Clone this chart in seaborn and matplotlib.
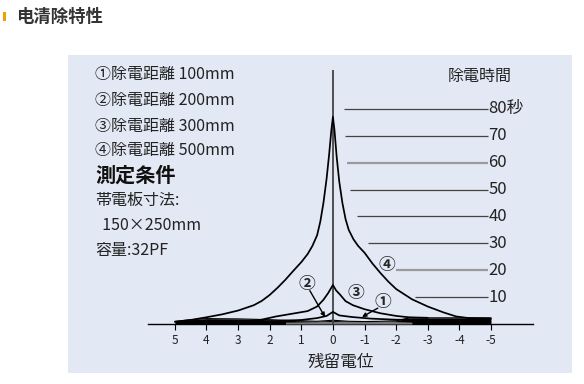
import matplotlib
matplotlib.use("Agg")
import matplotlib.pyplot as plt
from matplotlib.patches import Rectangle
import seaborn as sns
import pandas as pd

sns.set_theme(style="white")
plt.rcParams['font.family'] = ['Noto Sans CJK JP', 'DejaVu Sans']

# ---------------- data ----------------
title = "电清除特性"
x_label = "残留電位"
time_label = "除電時間"
x_ticks = [5, 4, 3, 2, 1, 0, -1, -2, -3, -4, -5]
x_tick_labels = ["5", "4", "3", "2", "1", "0", "-1", "-2", "-3", "-4", "-5"]
time_values = [80, 70, 60, 50, 40, 30, 20, 10]
time_labels = ["80秒", "70", "60", "50", "40", "30", "20", "10"]
leader_start = [-0.35, -0.38, -0.44, -0.54, -0.76, -1.11, -1.99, -2.6]
leader_gray = [False, False, True, False, False, False, True, False]

legend_lines = ["①除電距離 100mm", "②除電距離 200mm", "③除電距離 300mm", "④除電距離 500mm"]
cond_title = "測定条件"
cond_lines = ["帯電板寸法:", "  150×250mm", "容量:32PF"]

# curve 4 : 500mm
c4_x = [5.0, 4.5, 4.0, 3.5, 3.0, 2.5, 2.25, 2.0, 1.75, 1.5, 1.25, 1.0, 0.8, 0.65, 0.5, 0.4, 0.3,
        0.2, 0.12, 0.05, 0.0,
        -0.05, -0.12, -0.2, -0.3, -0.4, -0.5, -0.65, -0.8, -1.0, -1.25, -1.5, -1.75, -2.0,
        -2.5, -3.0, -3.5, -3.9, -4.3, -5.0]
c4_v = [0.8, 1.5, 2.5, 3.6, 5.0, 7.0, 8.6, 10.8, 13.5, 16.5, 19.8, 23.0, 26.0, 29.0, 33.0, 38.0, 45.0,
        54.0, 63.0, 72.0, 77.0,
        72.0, 62.0, 53.0, 45.0, 39.0, 35.0, 31.5, 29.0, 26.5, 22.5, 19.0, 15.8, 13.0,
        9.2, 6.5, 4.3, 2.8, 2.2, 2.0]
# curve 3 : 300mm
c3_x = [3.0, 2.3, 1.8, 1.2, 0.8, 0.5, 0.3, 0.15, 0.0, -0.1, -0.22, -0.4, -0.63, -1.0, -1.5, -2.0, -2.4, -3.0]
c3_v = [0.8, 1.5, 2.8, 4.0, 4.8, 6.5, 9.0, 11.5, 14.5, 12.5, 11.0, 8.5, 7.0, 5.5, 4.0, 3.0, 2.5, 2.3]
# curve 2 : 200mm
c2_x = [2.0, 1.0, 0.5, 0.2, 0.0, -0.2, -0.6, -1.2, -2.0, -2.5]
c2_v = [1.0, 1.5, 2.2, 3.0, 4.5, 3.2, 2.6, 2.0, 1.6, 1.5]
# curve 1 : 100mm (band along the baseline)
c1_x = [5.0, 4.5, 4.0, 3.0, 2.0, 1.0, 0.5, 0.0, -0.5, -1.0, -1.5, -2.0, -2.3, -2.5, -3.0, -4.0, -5.0]
c1_v = [1.0, 1.6, 2.0, 1.9, 1.6, 1.2, 1.0, 1.4, 1.0, 0.9, 1.0, 1.2, 2.0, 2.3, 2.3, 2.3, 2.3]
gray_x = [1.5, 0.5, 0.0, -1.0, -2.0, -2.5]
gray_v = [0.7, 0.9, 1.0, 1.0, 0.9, 0.7]

# curve label positions (data units) and pointer arrows
label_text = ["④", "③", "①", "②"]
label_x = [-1.7, -0.72, -1.58, 0.82]
label_v = [22.0, 11.5, 8.2, 15.0]
arrow_from = [(-1.42, 5.9), (0.73, 12.4)]
arrow_to = [(-0.92, 2.6), (0.25, 2.6)]

curves = pd.DataFrame({
    "x": c4_x + c3_x + c2_x,
    "v": c4_v + c3_v + c2_v,
    "curve": ["4"] * len(c4_x) + ["3"] * len(c3_x) + ["2"] * len(c2_x),
})

# ---------------- figure ----------------
W, H = 584, 384
fig = plt.figure(figsize=(W / 100, H / 100), dpi=100)
fig.patch.set_facecolor("white")

# panel background
fig.patches.append(Rectangle((68 / W, 1 - 373 / H), (572 - 68) / W, (373 - 55) / H,
                             transform=fig.transFigure, facecolor="#e2e8f4",
                             edgecolor="none", zorder=-5))
# title with orange marker
fig.patches.append(Rectangle((3 / W, 1 - 21 / H), 3 / W, 9 / H, transform=fig.transFigure,
                             facecolor="#f0a000", edgecolor="none", zorder=-5))
fig.text(16 / W, 1 - 17 / H, title, fontsize=12.5, fontweight="bold", color="#333333",
         va="center", ha="left", family=['Noto Sans CJK SC', 'DejaVu Sans'])

ax = fig.add_axes([148 / W, 1 - 324 / H, (533 - 148) / W, (324 - 60.4) / H])
ax.set_facecolor("none")
ax.set_zorder(2)
for s in ["top", "left", "right"]:
    ax.spines[s].set_visible(False)
ax.spines["bottom"].set_color("black")
ax.spines["bottom"].set_linewidth(1.0)

# band along baseline (curve 1)
ax.fill_between(c1_x, 0, c1_v, color="black", lw=0, zorder=3)
ax.fill_between(gray_x, 0, gray_v, color="#777777", lw=0, zorder=3.5)
ax.plot(c1_x, c1_v, color="black", lw=0.8, zorder=4)

# vertical axis at 0
ax.vlines(0, 0, 94.5, color="#444444", lw=1.3, zorder=5)

sns.lineplot(data=curves, x="x", y="v", units="curve", estimator=None, sort=False,
             color="black", lw=1.25, ax=ax, zorder=6, legend=False)

ax.set_xlim(5.85, -6.33)
ax.set_ylim(0, 98)
ax.set_xticks(x_ticks)
ax.set_xticklabels(x_tick_labels, fontsize=8.5)
ax.tick_params(axis="x", direction="out", length=4, width=0.8, color="black", pad=3,
               bottom=True, labelcolor="#222222")
ax.set_yticks([])
ax.set_xlabel(x_label, fontsize=12, color="#222222", labelpad=5)
ax.set_ylabel("")

# leader lines and time labels
for val, lab, st, g in zip(time_values, time_labels, leader_start, leader_gray):
    ax.hlines(val, st, -4.9, color="#9a9a9a" if g else "#444444",
              lw=1.6 if g else 0.9, zorder=2)
    ax.text(-4.92, val, lab, fontsize=12, va="center", ha="left", color="#222222")
ax.text(-4.65, 92, time_label, fontsize=11.5, va="center", ha="center", color="#222222")

# circled curve labels
for t, lx, lv in zip(label_text, label_x, label_v):
    ax.text(lx, lv, t, fontsize=12, fontweight="bold", ha="center", va="center", zorder=7)
for a, b in zip(arrow_from, arrow_to):
    ax.annotate("", xy=b, xytext=a, zorder=7,
                arrowprops=dict(arrowstyle="-|>", color="black", lw=1.0, mutation_scale=6,
                                shrinkA=0, shrinkB=0))

# left side text block
ys = [75, 101, 126, 150]
for y, t in zip(ys, legend_lines):
    fig.text(95 / W, 1 - y / H, t, fontsize=11.5, va="center", ha="left", color="#222222")
fig.text(95 / W, 1 - 175 / H, cond_title, fontsize=14.5, fontweight="bold", va="center",
         ha="left", color="#111111")
for y, t in zip([200, 225, 250], cond_lines):
    fig.text(95 / W, 1 - y / H, t, fontsize=11.5, va="center", ha="left", color="#222222")

fig.savefig("out.png", dpi=100)
